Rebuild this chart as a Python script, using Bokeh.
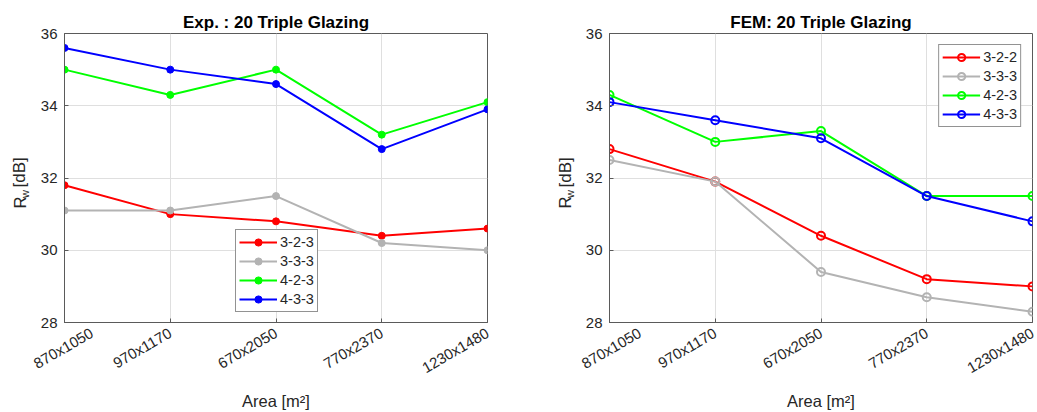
import math
from bokeh.plotting import figure
from bokeh.layouts import row
from bokeh.models import FixedTicker, Legend, LegendItem, Range1d
from bokeh.core.properties import value
from bokeh.embed import file_html
from bokeh.resources import INLINE

# ---------------- data ----------------
areas = ["870x1050", "970x1170", "670x2050", "770x2370", "1230x1480"]
xpos = [0, 1, 2, 3, 4]
y_ticks = [28, 30, 32, 34, 36]

exp_names = ["3-2-3", "3-3-3", "4-2-3", "4-3-3"]
exp_323 = [31.8, 31.0, 30.8, 30.4, 30.6]
exp_333 = [31.1, 31.1, 31.5, 30.2, 30.0]
exp_423 = [35.0, 34.3, 35.0, 33.2, 34.1]
exp_433 = [35.6, 35.0, 34.6, 32.8, 33.9]

fem_names = ["3-2-2", "3-3-3", "4-2-3", "4-3-3"]
fem_322 = [32.8, 31.9, 30.4, 29.2, 29.0]
fem_333 = [32.5, 31.9, 29.4, 28.7, 28.3]
fem_423 = [34.3, 33.0, 33.3, 31.5, 31.5]
fem_433 = [34.1, 33.6, 33.1, 31.5, 30.8]

colors = ["#FF0000", "#B3B3B3", "#00FF00", "#0000FF"]

FONT = "Liberation Sans"
TXT = "#262626"
FW, FH = 423, 289
TOP, BOTTOM = 33, 90
H = TOP + FH + BOTTOM


def ylabel_fig(width, cx):
    """Narrow strip (same vertical geometry as the plots) holding R_w [dB]."""
    f = figure(frame_width=width, frame_height=FH, output_backend="svg",
               toolbar_location=None, title=None,
               x_range=Range1d(0, width), y_range=Range1d(BOTTOM, H - TOP),
               x_axis_type=None, y_axis_type=None,
               min_border=0, min_border_left=0, min_border_right=0,
               min_border_top=TOP, min_border_bottom=BOTTOM)
    f.outline_line_color = None
    f.grid.visible = False
    f.background_fill_color = "white"
    f.border_fill_color = "white"
    kw = dict(angle=math.pi / 2, text_font=value(FONT), text_color=TXT,
              text_align="left", text_baseline="alphabetic")
    f.text(x=[cx], y=[H - 208], text=["R"],
           text_font_size=value("16.5px"), **kw)
    f.text(x=[cx + 5], y=[H - 197.5], text=["w"],
           text_font_size=value("11px"), **kw)
    f.text(x=[cx], y=[H - 187], text=["[dB]"],
           text_font_size=value("17px"), **kw)
    return f


def make_plot(title, names, series, filled, bl, br, legend_loc):
    p = figure(frame_width=FW, frame_height=FH, output_backend="svg",
               toolbar_location=None, x_range=Range1d(0, 4),
               y_range=Range1d(28, 36),
               min_border_left=bl, min_border_right=br,
               min_border_top=TOP, min_border_bottom=BOTTOM)
    p.background_fill_color = "white"
    p.border_fill_color = "white"
    p.outline_line_color = "#5a5a5a"
    p.outline_line_width = 1

    p.title.text = title
    p.title.text_font = FONT
    p.title.text_font_size = "17px"
    p.title.text_font_style = "bold"
    p.title.text_color = "#000000"
    p.title.align = "center"
    p.title.standoff = 4

    p.xaxis.ticker = FixedTicker(ticks=xpos)
    p.xaxis.major_label_overrides = {i: a for i, a in zip(xpos, areas)}
    p.xaxis.major_label_orientation = math.pi / 6
    p.xaxis.axis_label = "Area [m²]"
    p.xaxis.axis_label_standoff = 6
    p.yaxis.ticker = FixedTicker(ticks=y_ticks)

    for ax in (p.xaxis, p.yaxis):
        ax.major_label_text_font = FONT
        ax.major_label_text_font_size = "15px"
        ax.major_label_text_color = TXT
        ax.axis_label_text_font = FONT
        ax.axis_label_text_font_size = "16.5px"
        ax.axis_label_text_font_style = "normal"
        ax.axis_label_text_color = TXT
        ax.axis_line_color = "#5a5a5a"
        ax.major_tick_line_color = "#5a5a5a"
        ax.major_tick_in = 4
        ax.major_tick_out = 0
        ax.minor_tick_line_color = None
        ax.major_label_standoff = 7
    p.xaxis.major_label_standoff = 9

    p.grid.grid_line_color = "#DFDFDF"
    p.grid.grid_line_width = 1

    items = []
    for name, ys, c in zip(names, series, colors):
        r1 = p.line(xpos, ys, line_color=c, line_width=2)
        if filled:
            r2 = p.scatter(xpos, ys, marker="circle", size=7,
                           fill_color=c, line_color=c, line_width=1)
        else:
            r2 = p.scatter(xpos, ys, marker="circle", size=8,
                           fill_alpha=0, line_color=c, line_width=2)
        items.append(LegendItem(label=name, renderers=[r1, r2]))

    leg = Legend(items=items, location=legend_loc)
    leg.label_text_font = FONT
    leg.label_text_font_size = "14.5px"
    leg.label_text_color = TXT
    leg.border_line_color = "#262626"
    leg.border_line_width = 1
    leg.background_fill_color = "white"
    leg.background_fill_alpha = 1
    leg.glyph_width = 38
    leg.glyph_height = 18
    leg.label_height = 18
    leg.spacing = 1
    leg.padding = 3
    leg.margin = 11
    leg.label_standoff = 3
    p.add_layout(leg, "center")
    return p


lab1 = ylabel_fig(30, 19)
p1 = make_plot("Exp. : 20 Triple Glazing", exp_names,
               [exp_323, exp_333, exp_423, exp_433], True, 34, 31, (171, 10))
lab2 = ylabel_fig(60, 46.5)
p2 = make_plot("FEM: 20 Triple Glazing", fem_names,
               [fem_322, fem_333, fem_423, fem_433], False, 31, 5, "top_right")

layout = row(lab1, p1, lab2, p2, spacing=0)
open("out.html", "w").write(file_html(layout, INLINE))
